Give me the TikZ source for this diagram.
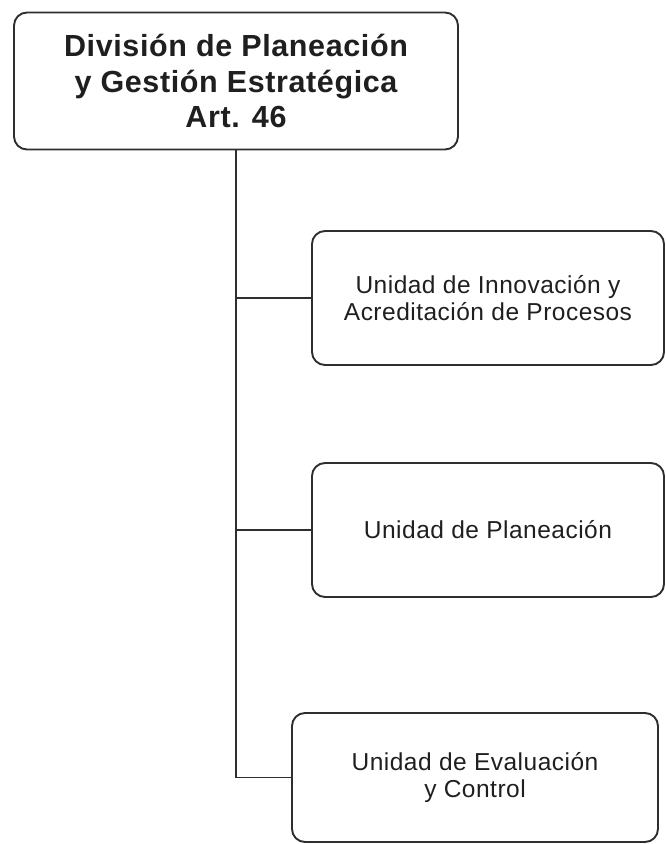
\documentclass[tikz,border=0pt]{standalone}
\usepackage{fontspec}
\setmainfont{Liberation Sans}
\begin{document}
\begin{tikzpicture}[x=1pt,y=1pt,
  box/.style={draw=black!82, line width=1.9pt, rounded corners=13pt, align=center, text=black!88, inner sep=0pt},
  topfont/.style={font=\fontsize{30.5}{35.5}\selectfont\bfseries\addfontfeature{LetterSpace=2}},
  subfont/.style={font=\fontsize{24.5}{27.5}\selectfont\addfontfeature{LetterSpace=2}},
  conn/.style={draw=black!82, line width=1.9pt}]
\useasboundingbox (0,0) rectangle (666,-844);
\node[box, topfont, minimum width=444, minimum height=137] (top) at (236,-81)
  {División de Planeación\\y Gestión Estratégica\\Art. 46};
\node[box, subfont, minimum width=352, minimum height=134] (b1) at (488,-298)
  {Unidad de Innovación y\\Acreditación de Procesos};
\node[box, subfont, minimum width=352, minimum height=134] (b2) at (488,-530)
  {Unidad de Planeación};
\node[box, subfont, minimum width=366, minimum height=129] (b3) at (475,-777.5)
  {Unidad de Evaluación\\y Control};
\draw[conn] (top.south) |- (b3.west);
\draw[conn] (top.south |- b1.west) -- (b1.west);
\draw[conn] (top.south |- b2.west) -- (b2.west);
\end{tikzpicture}
\end{document}
